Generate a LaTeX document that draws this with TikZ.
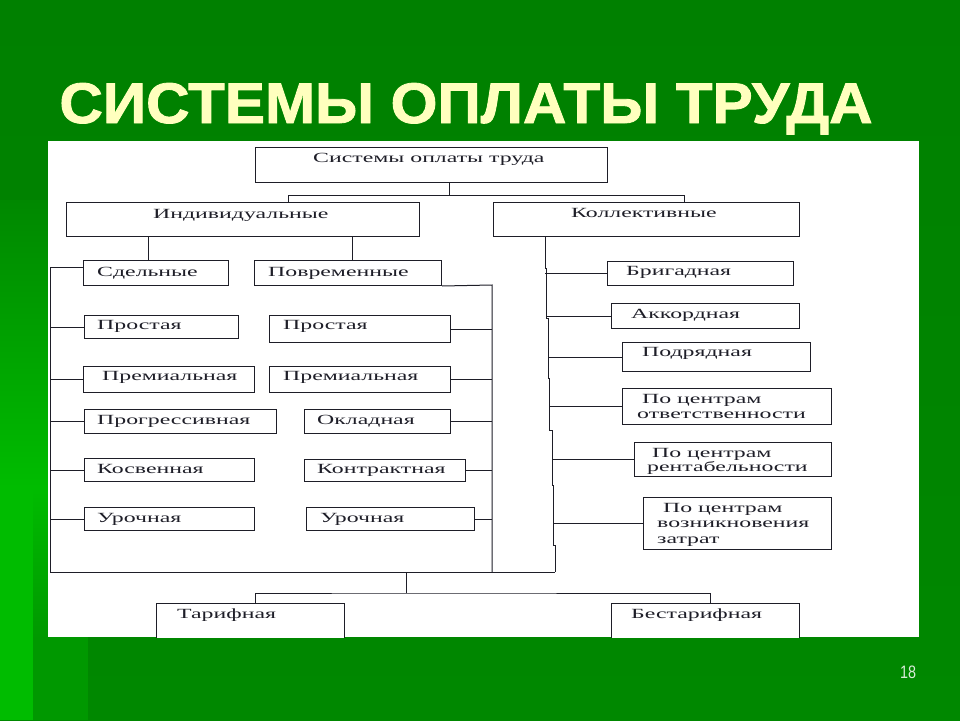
\documentclass[tikz,border=0pt]{standalone}
\usepackage{graphicx}
\usepackage{fontspec}
\setmainfont{Liberation Serif}
\newfontfamily\titlefont{Liberation Sans}[BoldFeatures={FakeBold=1.5}]
\newfontfamily\numfont{Liberation Sans}
\usetikzlibrary{calc}
\definecolor{bggreen}{RGB}{0,136,0}
\definecolor{bgtop}{RGB}{0,128,0}
\definecolor{bgbright}{RGB}{0,188,0}
\definecolor{bgmid}{RGB}{0,152,0}
\definecolor{titleyellow}{RGB}{255,255,190}
\definecolor{numcol}{RGB}{215,235,215}
\definecolor{inkc}{RGB}{30,30,40}
\newcommand{\tx}[1]{\scalebox{1.7}[1]{#1}}
\tikzset{
  box/.style={draw=inkc, line width=1pt, fill=white, inner sep=0pt, anchor=north west},
  lbl/.style={inner sep=0pt, anchor=base west, text=inkc, font=\fontsize{14}{16}\selectfont},
  conn/.style={draw=inkc, line width=1pt},
}
\newcommand{\bx}[5]{\node[box, minimum width={#4pt-#2pt}, minimum height={#5pt-#3pt}] (#1) at (#2,#3) {};}
\begin{document}
\begin{tikzpicture}[x=1pt,y=-1pt]
\useasboundingbox (0,0) rectangle (960,720);
% background
\shade[top color=bgtop, bottom color=bggreen] (0,0) rectangle (960,720);
\shade[top color=bggreen, bottom color=bgbright] (0,200) rectangle (48,487);
\fill[bgbright] (0,487) rectangle (33,720);
\shade[top color=bgbright, bottom color=bgmid] (33,487) rectangle (48,640);
\fill[bgmid] (33,637) rectangle (88,720);
% title
\node[anchor=base, inner sep=0pt, text=titleyellow] (title) at (466,123)
  {\resizebox{813pt}{40pt}{\titlefont\bfseries СИСТЕМЫ ОПЛАТЫ ТРУДА}};
% panel
\fill[white] (48,141) rectangle (919,637);
\begin{scope}
\clip (48,141) rectangle (919,637);
% boxes
\bx{T}{255}{147}{607}{182}
\bx{Ind}{66}{202}{419}{236}
\bx{Kol}{493}{202}{799}{236}
\bx{Sd}{83}{260}{228}{285}
\bx{Pov}{254}{260}{441}{285}
\bx{L1}{84}{315}{238}{338}
\bx{L2}{83}{366}{254}{392}
\bx{L3}{84}{409}{276}{433}
\bx{L4}{84}{458}{254}{481}
\bx{L5}{84}{507}{254}{530}
\bx{R1}{269}{315}{450}{342}
\bx{R2}{269}{366}{450}{392}
\bx{R3}{304}{409}{450}{433}
\bx{R4}{304}{459}{465}{481}
\bx{R5}{306}{507}{474}{530}
\bx{C1}{607}{261}{793}{285}
\bx{C2}{611}{303}{799}{328}
\bx{C3}{622}{342}{810}{371}
\bx{C4}{622}{388}{831}{424}
\bx{C5}{634}{442}{831}{476}
\bx{C6}{643}{497}{831}{549}
\bx{Tar}{156}{603}{344}{645}
\bx{Bes}{611}{603}{799}{645}
% labels
\node[lbl] (tT) at (313,162) {\tx{Системы оплаты труда}};
\node[lbl] (tInd) at (153,218) {\tx{Индивидуальные}};
\node[lbl] (tKol) at (571,217) {\tx{Коллективные}};
\node[lbl] (tSd) at (97,276) {\tx{Сдельные}};
\node[lbl] (tPov) at (268,276) {\tx{Повременные}};
\node[lbl] (tL1) at (97,329) {\tx{Простая}};
\node[lbl] (tL2) at (102,380) {\tx{Премиальная}};
\node[lbl] (tL3) at (97,424) {\tx{Прогрессивная}};
\node[lbl] (tL4) at (97,473) {\tx{Косвенная}};
\node[lbl] (tL5) at (97,522) {\tx{Урочная}};
\node[lbl] (tR1) at (283,329) {\tx{Простая}};
\node[lbl] (tR2) at (283,380) {\tx{Премиальная}};
\node[lbl] (tR3) at (317,424) {\tx{Окладная}};
\node[lbl] (tR4) at (317,473) {\tx{Контрактная}};
\node[lbl] (tR5) at (320,522) {\tx{Урочная}};
\node[lbl] (tC1) at (626,275) {\tx{Бригадная}};
\node[lbl] (tC2) at (631,318) {\tx{Аккордная}};
\node[lbl] (tC3) at (642,356) {\tx{Подрядная}};
\node[lbl] (tC4a) at (642,403) {\tx{По центрам}};
\node[lbl] (tC4b) at (637,418) {\tx{ответственности}};
\node[lbl] (tC5a) at (652,457) {\tx{По центрам}};
\node[lbl] (tC5b) at (647,471) {\tx{рентабельности}};
\node[lbl] (tC6a) at (663,512) {\tx{По центрам}};
\node[lbl] (tC6b) at (657,527) {\tx{возникновения}};
\node[lbl] (tC6c) at (657,543) {\tx{затрат}};
\node[lbl] (tTar) at (177,618) {\tx{Тарифная}};
\node[lbl] (tBes) at (631,618) {\tx{Бестарифная}};
% connectors: top
\coordinate (Tj) at ($(T.south west)!0.55!(T.south east)$);
\coordinate (b1) at (288,195);
\coordinate (b2) at (684,195);
\draw[conn] (Tj) -- (Tj |- b1);
\draw[conn] (b1 |- Ind.north) -- (b1) -- (b2) -- (b2 |- Kol.north);
% individual
\draw[conn] (Ind.south -| 148,0) -- (Sd.north -| 148,0);
\draw[conn] (Ind.south -| 352,0) -- (Pov.north -| 352,0);
% left bus
\coordinate (LB) at (50,267);
\coordinate (LBb) at (50,572);
\draw[conn] (Sd.west |- LB) -- (LB) -- (LBb);
\foreach \b in {L1,L2,L3,L4,L5} \draw[conn] (\b.west) -- (\b.west -| LB);
% right bus (povremennye)
\coordinate (PB) at (492,285);
\draw[conn] (Pov.south east) -- (PB) -- (PB |- LBb);
\foreach \b in {R1,R2,R3,R4,R5} \draw[conn] (\b.east) -- (\b.east -| PB);
% collective bus
\coordinate (KB) at (545,236);
\coordinate (KBb) at (555,572);
\draw[conn] (KB) -- (545,268) -- (546,268) -- (546,318) -- (548,318) -- (548,378)
  -- (549,378) -- (549,430) -- (552,430) -- (552,485) -- (553,485) -- (553,545)
  -- (555,545) -- (KBb);
\draw[conn] (C1.west) -- (C1.west -| 545,0);
\draw[conn] (C2.west) -- (C2.west -| 546,0);
\draw[conn] (C3.west) -- (C3.west -| 548,0);
\draw[conn] (C4.west) -- (C4.west -| 549,0);
\draw[conn] (C5.west) -- (C5.west -| 552,0);
\draw[conn] (C6.west) -- (C6.west -| 553,0);
% bottom
\draw[conn] (LBb) -- (KBb);
\coordinate (M) at (406,572);
\coordinate (M2) at (406,593);
\draw[conn] (M) -- (M2);
\draw[conn] (Tar.north -| 255,0) |- (M2) -| (Bes.north -| 710,0);
\end{scope}
% page number
\node[inner sep=0pt, text=numcol, font=\numfont\fontsize{18}{20}\selectfont] (pg) at (908,672) {\scalebox{0.8}[1]{18}};
\end{tikzpicture}
\end{document}
